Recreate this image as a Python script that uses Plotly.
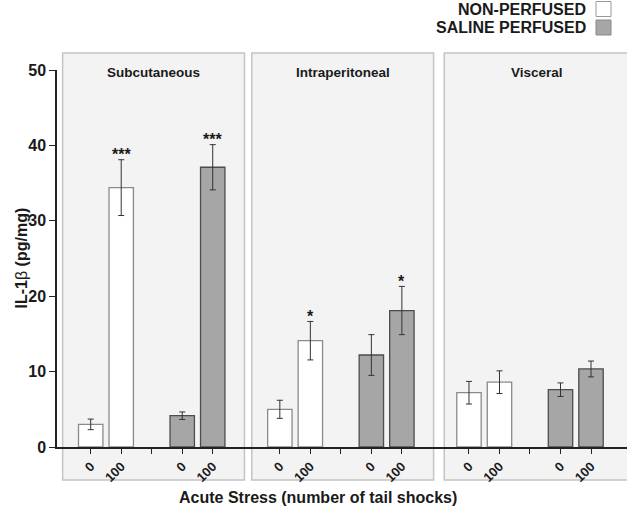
import plotly.graph_objects as go

# ---------------- data ----------------
panels = ["Subcutaneous", "Intraperitoneal", "Visceral"]
stress_labels = ["0", "100"]
non_perfused = [3.0, 34.4, 5.0, 14.1, 7.2, 8.6]
non_perfused_err = [0.7, 3.7, 1.2, 2.55, 1.5, 1.5]
saline_perfused = [4.15, 37.1, 12.2, 18.1, 7.6, 10.35]
saline_perfused_err = [0.5, 3.0, 2.7, 3.2, 0.9, 1.05]
non_perfused_sig = ["", "***", "", "*", "", ""]
saline_perfused_sig = ["", "***", "", "*", "", ""]
y_ticks = [0, 10, 20, 30, 40, 50]

FONT = "Liberation Sans, Arial, Helvetica, sans-serif"
TXT = "#1a1a1a"

# ---------------- layout geometry ----------------
W, H = 627, 509
L, R, T, B = 57, 0, 70, 62
PANEL_STEP = 6.2
x_range = [-1.105, 17.58]

def xpos(p, s):
    return p * PANEL_STEP + s

np_x, sp_x = [], []
for p in range(len(panels)):
    for k in range(len(stress_labels)):
        np_x.append(xpos(p, k))
        sp_x.append(xpos(p, 3 + k))

fig = go.Figure()
fig.add_trace(go.Bar(
    x=np_x, y=non_perfused, width=0.8, name="NON-PERFUSED",
    marker=dict(color="white", line=dict(color="#8a8a8a", width=1.3)),
    error_y=dict(type="data", array=non_perfused_err, visible=True,
                 color="#333333", thickness=1, width=3),
    showlegend=False))
fig.add_trace(go.Bar(
    x=sp_x, y=saline_perfused, width=0.8, name="SALINE PERFUSED",
    marker=dict(color="#a6a6a6", line=dict(color="#4d4d4d", width=1.3)),
    error_y=dict(type="data", array=saline_perfused_err, visible=True,
                 color="#333333", thickness=1, width=3),
    showlegend=False))

# ticks
tickvals, ticktext = [], []
for p in range(len(panels)):
    for s, t in zip(range(5), stress_labels + [""] + stress_labels):
        tickvals.append(xpos(p, s))
        ticktext.append(t)

shapes, annotations = [], []
# panel boxes
plot_h = H - T - B
y_top = 1 + (T - 53) / plot_h
y_bot = -(480 - (H - B)) / plot_h
panel_bounds = [(-0.92, 5.04), (5.28, 11.24), (11.59, 17.7)]
for (x0, x1), name in zip(panel_bounds, panels):
    shapes.append(dict(type="rect", xref="x", yref="paper", x0=x0, x1=x1,
                       y0=y_bot, y1=y_top, layer="below",
                       fillcolor="#f3f3f3", line=dict(color="#c4c4c4", width=1.5)))
    annotations.append(dict(xref="x", yref="paper", x=(x0 + x1) / 2, y=1 + (T - 72) / plot_h,
                            text="<b>%s</b>" % name, showarrow=False,
                            font=dict(family=FONT, size=13.5, color=TXT),
                            xanchor="center", yanchor="middle"))

# significance stars
for xs, ys, es, sig in [(np_x, non_perfused, non_perfused_err, non_perfused_sig),
                        (sp_x, saline_perfused, saline_perfused_err, saline_perfused_sig)]:
    for x, y, e, s in zip(xs, ys, es, sig):
        if s:
            annotations.append(dict(x=x, y=y + e, text="<b>%s</b>" % s, showarrow=False,
                                    xanchor="center", yanchor="middle", yshift=5,
                                    font=dict(family=FONT, size=16, color=TXT)))

# legend (manual)
def px2paper_x(px):
    return (px - L) / (W - L - R)

def px2paper_y(py):
    return (H - B - py) / plot_h

for label, fill, border, yc in [("NON-PERFUSED", "white", "#999999", 9),
                                ("SALINE PERFUSED", "#a6a6a6", "#8a8a8a", 27.5)]:
    annotations.append(dict(xref="paper", yref="paper", x=px2paper_x(588), y=px2paper_y(yc),
                            text="<b>%s</b>" % label, showarrow=False,
                            xanchor="right", yanchor="middle",
                            font=dict(family=FONT, size=16, color=TXT)))
    shapes.append(dict(type="rect", xref="paper", yref="paper",
                       x0=px2paper_x(596), x1=px2paper_x(611),
                       y0=px2paper_y(yc + 7.5), y1=px2paper_y(yc - 7.5),
                       fillcolor=fill, line=dict(color=border, width=1)))

# axis titles
annotations.append(dict(xref="paper", yref="paper", x=px2paper_x(317.5), y=px2paper_y(497),
                        text="<b>Acute Stress (number of tail shocks)</b>", showarrow=False,
                        xanchor="center", yanchor="middle",
                        font=dict(family=FONT, size=16, color=TXT)))
annotations.append(dict(xref="paper", yref="paper", x=px2paper_x(21), y=0.5,
                        text="<b>IL-1</b>β<b> (pg/mg)</b>", showarrow=False, textangle=-90,
                        xanchor="center", yanchor="middle",
                        font=dict(family=FONT, size=16, color=TXT)))

fig.update_layout(
    width=W, height=H, margin=dict(l=L, r=R, t=T, b=B),
    paper_bgcolor="white", plot_bgcolor="rgba(0,0,0,0)",
    barmode="overlay", shapes=shapes, annotations=annotations,
    xaxis=dict(range=x_range, tickvals=tickvals, ticktext=ticktext, tickangle=-45,
               showline=True, linecolor="#222222", linewidth=1.5,
               ticks="outside", ticklen=5, tickcolor="#222222", tickwidth=1.2,
               showgrid=False, zeroline=False,
               tickfont=dict(family=FONT, size=13, color=TXT, weight="bold")),
    yaxis=dict(range=[0, 50], tickvals=y_ticks, showline=True, linecolor="#222222",
               linewidth=1.5, ticks="outside", ticklen=6, tickcolor="#222222", tickwidth=1.2,
               showgrid=False, zeroline=False,
               tickfont=dict(family=FONT, size=16, color=TXT, weight="bold")),
)

fig.write_html("out.html", config={"displayModeBar": False},
               post_script="document.body.style.margin='0';document.body.style.padding='0';")
